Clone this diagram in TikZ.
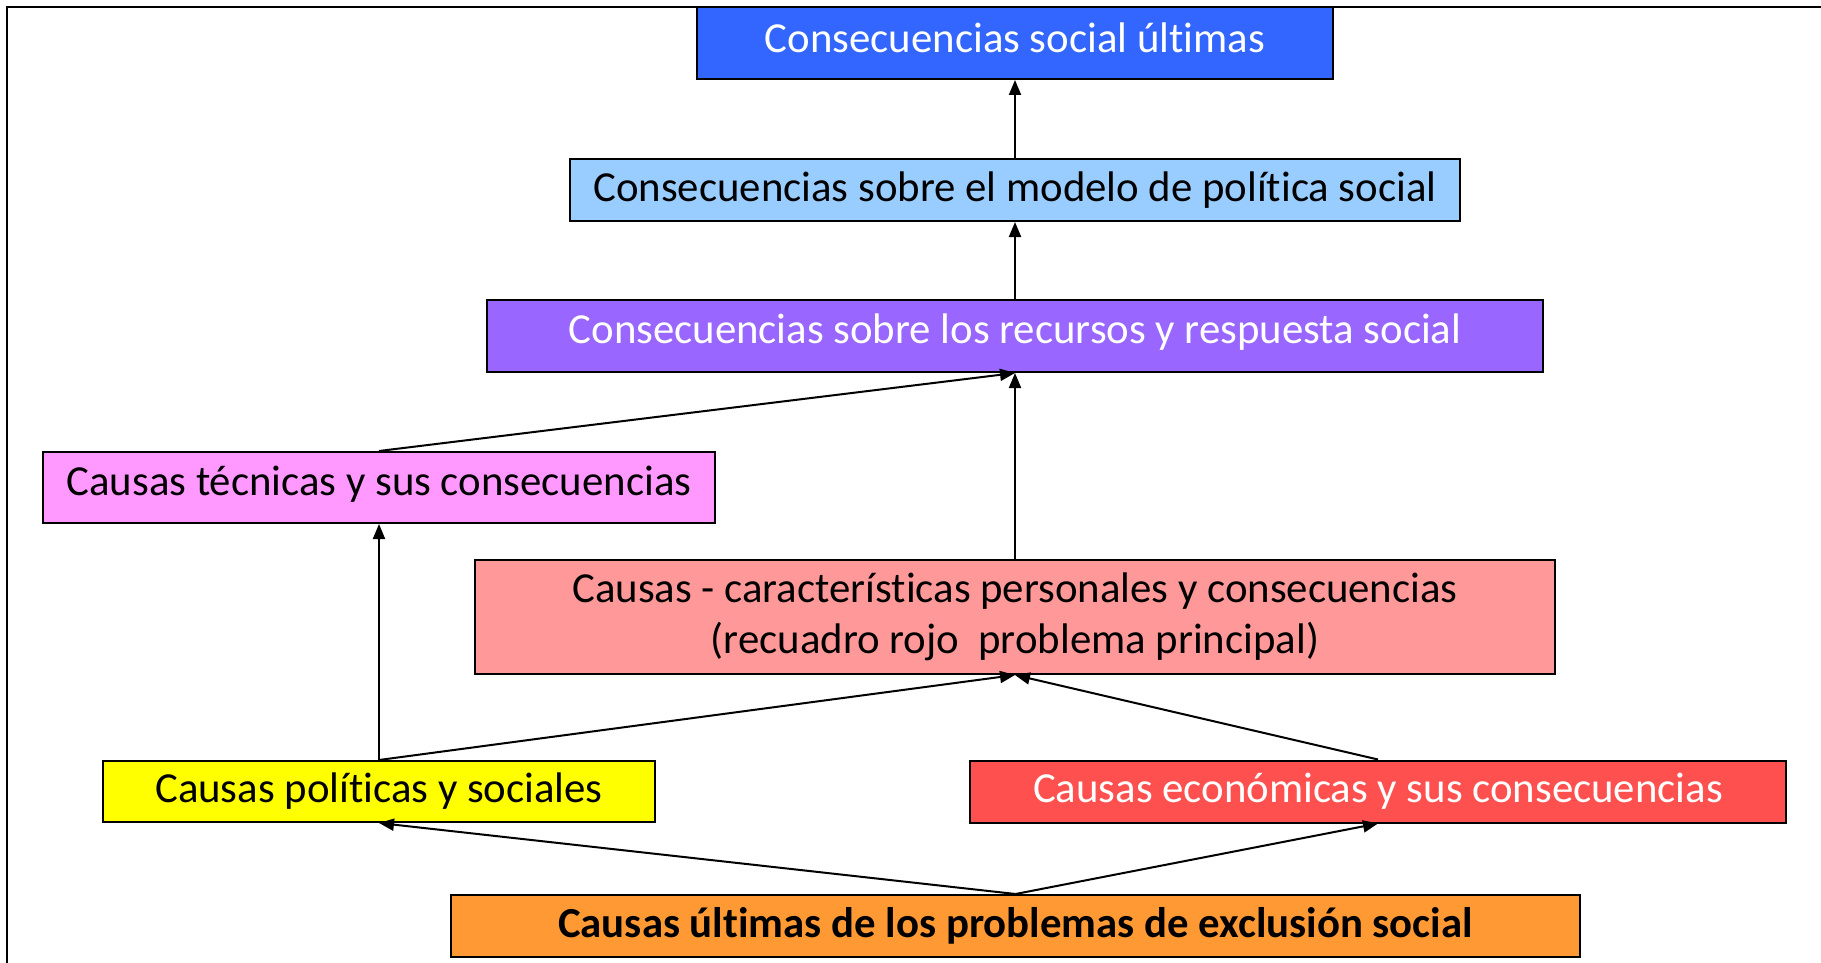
\documentclass[tikz,border=0pt]{standalone}
\usepackage{fontspec}
\setmainfont[Ligatures={NoCommon,NoContextual,NoRare}]{Carlito}
\usetikzlibrary{arrows.meta}
\definecolor{cblue}{HTML}{3366FF}
\definecolor{clight}{HTML}{99CCFF}
\definecolor{cpurple}{HTML}{9966FF}
\definecolor{cpink}{HTML}{FF99FF}
\definecolor{csalmon}{HTML}{FF9999}
\definecolor{cyellow}{HTML}{FFFF00}
\definecolor{cred}{HTML}{FF5050}
\definecolor{corange}{HTML}{FF9933}
\tikzset{
  box/.style={draw=black, line width=2pt, inner sep=0pt, align=center,
    font=\fontsize{42.8}{51}\selectfont},
  conn/.style={line width=2pt, -{Triangle[length=15pt,width=12pt]}},
}
\begin{document}
\begin{tikzpicture}[x=1pt,y=-1pt]
\useasboundingbox (0,0) rectangle (1821,963);
\fill[white] (0,0) rectangle (1821,963);
\coordinate (fbl) at (7,963);
\coordinate (ftl) at (7,7);
\coordinate (ftr) at (1821,7);
\draw[line width=2pt] (fbl) -- (ftl) -- (ftr);

\node[box, fill=cblue, text=white, minimum width=636pt, minimum height=72pt] (blue) at (1015,43) {\raisebox{11pt}{Consecuencias social últimas}};
\node[box, fill=clight, minimum width=890pt, minimum height=62pt] (light) at (1015,190) {Consecuencias sobre el modelo de política social};
\node[box, fill=cpurple, text=white, minimum width=1056pt, minimum height=72pt] (purple) at (1015,336) {\raisebox{14pt}{Consecuencias sobre los recursos y respuesta social}};
\node[box, fill=cpink, minimum width=672pt, minimum height=71pt] (pink) at (379,487.5) {\raisebox{14pt}{Causas técnicas y sus consecuencias}};
\node[box, fill=csalmon, minimum width=1080pt, minimum height=114pt] (salmon) at (1015,617) {Causas - características personales y consecuencias\\(recuadro rojo\ \ problema principal)};
\node[box, fill=cyellow, minimum width=552pt, minimum height=61pt] (yellow) at (379,791.5) {Causas políticas y sociales};
\node[box, fill=cred, text=white, minimum width=816pt, minimum height=62pt] (red) at (1378,791.5) {Causas económicas y sus consecuencias};
\node[box, fill=corange, minimum width=1129pt, minimum height=62pt, font=\fontsize{42.8}{51}\selectfont\bfseries] (orange) at (1015.5,926) {Causas últimas de los problemas de exclusión social};

\draw[conn] (light.north) -- (blue.south);
\draw[conn] (purple.north) -- (light.south);
\draw[conn] (pink.north) -- (purple.south);
\draw[conn] (salmon.north) -- (purple.south);
\draw[conn] (yellow.north) -- (pink.south);
\draw[conn] (yellow.north) -- (salmon.south);
\draw[conn] (red.north) -- (salmon.south);
\draw[conn] (orange.north) -- (yellow.south);
\draw[conn] (orange.north) -- (red.south);
\end{tikzpicture}
\end{document}
